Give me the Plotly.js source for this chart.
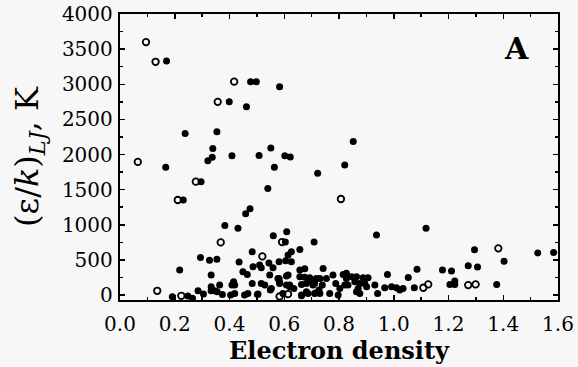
<!DOCTYPE html>
<html>
<head>
<meta charset="utf-8">
<script src="https://cdn.plot.ly/plotly-3.0.1.min.js"></script>
<style>html,body{margin:0;padding:0;background:#f7f7f7;}</style>
</head>
<body>
<div id="chart" style="width:578px;height:367px;"></div>
<script>
// Open-circle points
const openX = [0.095,0.13,0.065,0.357,0.417,0.807,0.211,0.277,0.368,0.592,0.520,0.136,0.224,0.583,0.614,1.108,1.126,1.272,1.299,1.382];
const openY = [3600,3320,1895,2750,3037,1367,1353,1614,750,755,550,61,-10,-20,14,104,152,142,152,665];

// Filled-dot points
const fillX = [0.17,0.477,0.498,0.399,0.462,0.583,
  0.238,0.354,0.339,0.321,0.337,0.409,0.508,0.551,0.564,0.602,0.622,0.722,0.821,0.852,
  0.167,0.540,0.296,0.231,
  0.459,0.475,0.383,0.431,
  0.560,0.609,0.604,0.709,0.937,1.118,
  0.483,0.626,0.614,0.657,1.295,1.526,1.584,1.403,1.272,1.306,1.178,1.211,1.085,1.053,0.977,
  0.218,0.294,0.327,0.354,0.435,0.486,0.510,0.516,0.544,0.581,0.605,0.626,0.559,0.449,0.465,0.333,0.547,0.675,0.742,0.657,0.693,0.730,0.754,0.778,0.815,0.827,0.827,0.846,0.864,0.888,0.906,
  0.419,0.415,0.483,0.516,0.529,0.581,0.583,0.614,0.553,0.620,0.635,0.663,0.705,0.699,0.739,0.727,0.788,0.803,0.821,
  0.833,0.858,0.876,0.870,0.901,0.894,0.931,0.864,0.876,0.941,0.967,0.992,1.010,1.022,1.034,1.075,1.205,1.223,1.223,1.376,
  0.333,0.333,0.346,0.364,0.355,0.374,0.409,0.404,0.285,0.305,0.191,0.248,0.265,
  0.419,0.455,0.467,0.502,0.595,0.663,0.687,0.711,0.730,0.766,0.797,
  0.577,0.583,0.608,0.608,0.620,0.549,0.675,0.657,0.717,0.711,0.681,0.717,0.663,0.504,0.681];
const fillY = [3330,3037,3037,2752,2680,2966,
  2300,2326,2085,1913,1961,1984,1986,2093,1818,1984,1965,1733,1852,2184,
  1820,1517,1614,1353,
  1158,1230,990,952,
  843,902,755,755,855,950,
  617,617,570,648,645,600,605,480,418,398,356,344,366,250,294,
  356,535,494,510,470,403,427,389,458,474,489,474,389,332,292,285,285,375,380,261,247,237,237,285,294,237,309,261,261,247,247,
  142,190,166,166,142,237,166,285,95,142,95,152,142,190,142,71,166,95,142,
  142,190,166,95,118,166,142,47,24,24,104,118,104,71,95,104,152,152,200,152,
  118,61,61,142,47,10,142,0,61,14,-24,-14,-45,
  24,0,24,10,24,0,24,24,24,24,0,
  237,190,270,142,118,71,252,356,237,166,47,33,-10,14,166];

const xTicks = [0.0,0.2,0.4,0.6,0.8,1.0,1.2,1.4,1.6];
const xTickLabels = ["0.0","0.2","0.4","0.6","0.8","1.0","1.2","1.4","1.6"];
const yTicks = [0,500,1000,1500,2000,2500,3000,3500,4000];
const yTickLabels = ["0","500","1000","1500","2000","2500","3000","3500","4000"];

const serif = "DejaVu Serif, Liberation Serif, serif";

const traces = [
  {x: fillX, y: fillY, type: 'scatter', mode: 'markers', cliponaxis: false,
   marker: {symbol: 'circle', size: 7, color: '#000'}, hoverinfo: 'skip'},
  {x: openX, y: openY, type: 'scatter', mode: 'markers', cliponaxis: false,
   marker: {symbol: 'circle-open', size: 6.5, color: '#000', line: {width: 1.8, color: '#000'}}, hoverinfo: 'skip'}
];

const layout = {
  width: 578, height: 367,
  margin: {l: 120, r: 20, t: 14, b: 67},
  paper_bgcolor: '#f7f7f7', plot_bgcolor: '#f7f7f7',
  showlegend: false,
  font: {family: serif, color: '#000'},
  xaxis: {
    range: [0, 1.6], tickvals: xTicks, ticktext: xTickLabels,
    ticks: 'inside', ticklen: 5, tickwidth: 1.5, tickcolor: '#000',
    minor: {dtick: 0.1, ticks: 'inside', ticklen: 3, tickcolor: '#000'},
    showline: true, linewidth: 2.2, linecolor: '#000', mirror: 'allticks',
    showgrid: false, zeroline: false, ticklabelstandoff: 5,
    tickfont: {family: serif, size: 20, color: '#000'},
    title: {text: '<b>Electron density</b>', font: {family: serif, size: 24, color: '#000'}, standoff: 2}
  },
  yaxis: {
    range: [-70, 4000], tickvals: yTicks, ticktext: yTickLabels,
    ticks: 'inside', ticklen: 5, tickwidth: 1.5, tickcolor: '#000',
    minor: {dtick: 250, ticks: 'inside', ticklen: 3, tickcolor: '#000'},
    showline: true, linewidth: 2.2, linecolor: '#000', mirror: 'allticks',
    showgrid: false, zeroline: false, ticklabelstandoff: 1,
    tickfont: {family: serif, size: 20, color: '#000'},
    title: {text: '(ε/<i>k</i>)<sub><i>LJ</i></sub>, K', font: {family: serif, size: 32, color: '#000'}, standoff: 14}
  },
  annotations: [
    {text: '<b>A</b>', xref: 'paper', yref: 'paper', x: 0.905, y: 0.88, showarrow: false,
     font: {family: serif, size: 30, color: '#000'}, xanchor: 'center', yanchor: 'middle'}
  ]
};

Plotly.newPlot('chart', traces, layout, {displayModeBar: false, staticPlot: true});
</script>
</body>
</html>
